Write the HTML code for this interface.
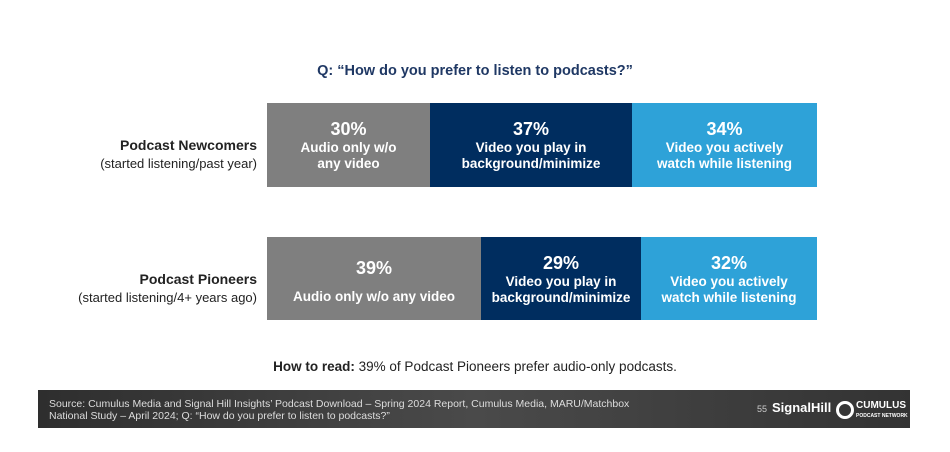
<!DOCTYPE html>
<html><head><meta charset="utf-8"><style>
body{margin:0;width:950px;height:452px;background:#fff;position:relative;overflow:hidden;font-family:"Liberation Sans",sans-serif}
.a{position:absolute}
.t{color:#1f3864;font-weight:bold;font-size:14.5px;left:0;width:950px;text-align:center;top:63px}
.seg{position:absolute;color:#fff;font-weight:bold;text-align:center;display:flex;flex-direction:column;justify-content:center;align-items:center;font-size:13.5px;line-height:16px}
.seg b{font-size:18px;line-height:22px}
.g{background:#7f7f7f}.n{background:#002d5f}.l{background:#2ea2d8}
.lab{right:693px;text-align:right;font-size:13px;color:#222;line-height:18px}
</style></head><body>
<div class="a t">Q: “How do you prefer to listen to podcasts?”</div>
<div class="a lab" style="top:136px"><b style="font-size:14px">Podcast Newcomers</b><br>(started listening/past year)</div>
<div class="a lab" style="top:270px"><b style="font-size:14px">Podcast Pioneers</b><br>(started listening/4+ years ago)</div>
<div class="seg g" style="left:267px;top:103px;width:163px;height:84px"><b>30%</b>Audio only w/o<br>any video</div>
<div class="seg n" style="left:430px;top:103px;width:202px;height:84px"><b>37%</b>Video you play in<br>background/minimize</div>
<div class="seg l" style="left:632px;top:103px;width:185px;height:84px"><b>34%</b>Video you actively<br>watch while listening</div>
<div class="seg g" style="left:267px;top:237px;width:214px;height:83px;justify-content:flex-start;padding-top:0"><b style="margin-top:20px">39%</b><span style="margin-top:10px">Audio only w/o any video</span></div>
<div class="seg n" style="left:481px;top:237px;width:160px;height:83px"><b>29%</b>Video you play in<br>background/minimize</div>
<div class="seg l" style="left:641px;top:237px;width:176px;height:83px"><b>32%</b>Video you actively<br>watch while listening</div>
<div class="a" style="left:0;width:950px;text-align:center;top:359px;font-size:13.5px;color:#222"><b>How to read:</b> 39% of Podcast Pioneers prefer audio-only podcasts.</div>
<div class="a" style="left:38px;top:390px;width:872px;height:38px;background:linear-gradient(90deg,#2e2e2e,#4a4a4a 50%,#333);"></div>
<div class="a" style="left:49px;top:398px;font-size:10.5px;line-height:12px;color:#ddd">Source: Cumulus Media and Signal Hill Insights’ Podcast Download – Spring 2024 Report, Cumulus Media, MARU/Matchbox<br>National Study – April 2024; Q: “How do you prefer to listen to podcasts?”</div>
<div class="a" style="left:757px;top:404px;font-size:9px;color:#ccc">55</div>
<div class="a" style="left:772px;top:400px;font-size:13px;font-weight:bold;color:#fff">SignalHill</div>
<div class="a" style="left:836px;top:401px;width:12px;height:12px;border:3px solid #fff;border-radius:50%"></div>
<div class="a" style="left:856px;top:401px;font-size:10px;font-weight:bold;color:#fff;line-height:9px">CUMULUS<br><span style="font-size:5px">PODCAST NETWORK</span></div>
</body></html>
